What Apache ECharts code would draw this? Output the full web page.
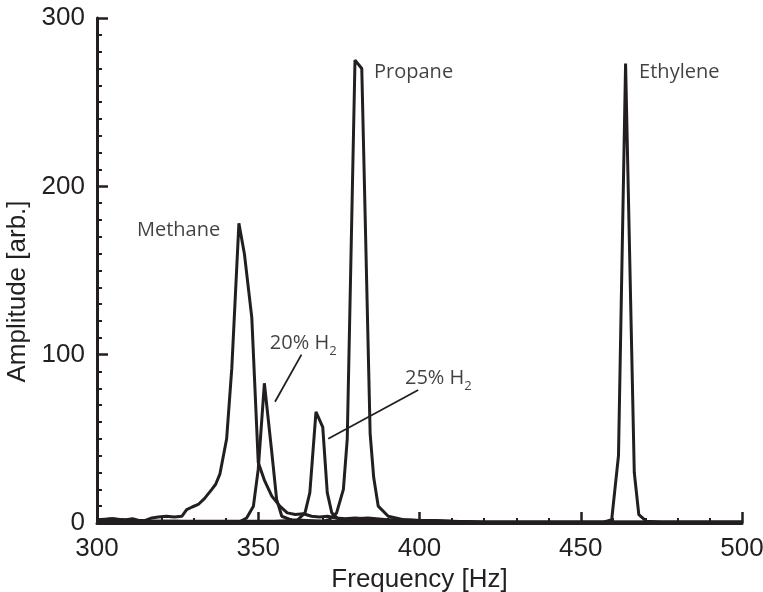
<!DOCTYPE html>
<html>
<head>
<meta charset="utf-8">
<script src="https://cdn.jsdelivr.net/npm/echarts@6/dist/echarts.min.js"></script>
<style>
html, body { margin: 0; padding: 0; background: #fff; }
#main { width: 763px; height: 592px; }
</style>
</head>
<body>
<div id="main"></div>
<script>
// spectra, [frequency Hz, amplitude]
var methane = [[300, 1.5], [302, 2], [304.5, 2.5], [307, 2], [309, 2], [311, 2.5], [313, 1.5], [315, 1.5],
	[317, 3], [319, 3.5], [321.5, 4], [324, 3.5], [326.3, 4], [327.8, 8], [329.5, 9.5], [331.4, 11],
	[333.3, 14.5], [335.6, 20], [336.8, 23], [338.1, 29], [340.2, 50], [341.8, 92], [344, 178],
	[345.7, 160], [348, 122], [350, 36], [352, 25], [354.2, 16], [356.7, 10], [359, 6], [361.5, 5],
	[364, 5.5], [366.5, 4], [369, 3.5], [371.5, 4], [374, 3], [377, 2.5], [380, 3], [383, 2.5],
	[386, 2], [390, 1.5], [395, 1.5], [400, 1], [420, 0.5], [450, 0.5], [500, 0.5]];
var h2_20 = [[300, 2], [305, 2.5], [310, 1.5], [315, 1], [320, 1], [325, 1], [330, 0.5], [335, 0.5],
	[340, 0.5], [344.5, 1], [346.4, 3], [348.5, 10], [350, 32], [351.9, 83], [354.2, 42], [355.7, 14],
	[357.3, 4], [360, 2], [365, 1.5], [370, 1], [380, 1], [390, 1], [400, 0.5], [450, 0.5], [500, 0.5]];
var h2_25 = [[300, 1], [320, 1], [340, 1], [355, 1], [362, 1.5], [364.5, 6], [366, 18], [367.9, 66],
	[370, 57], [371.4, 18], [372.8, 6], [375, 2], [380, 2.5], [384, 3], [390, 2], [395, 2], [400, 1.5],
	[410, 1], [420, 0.5], [500, 0.5]];
var propane = [[300, 0.5], [340, 0.5], [360, 1], [370, 1], [372, 2], [374.3, 6], [376.4, 20], [377.6, 50],
	[380, 275], [382.1, 270], [384.7, 53], [385.8, 27], [387.2, 10], [390.3, 4], [395, 2], [400, 1.5],
	[405, 1.5], [410, 1], [420, 0.5], [500, 0.5]];
var ethylene = [[300, 0.5], [350, 0.5], [400, 0.5], [457, 0.5], [459.6, 2], [461.7, 40], [463.9, 273],
	[466.6, 30], [468, 5], [470.4, 1], [475, 0.5], [500, 0.5]];

// annotations
var labelText = ['Methane', 'Propane', 'Ethylene', '20% H{s|2}', '25% H{s|2}'];
var labelX = [312.4, 385.9, 468.1, 353.6, 395.5];
var labelY = [174, 268, 268, 107, 86];
var pointer20 = [[363.4, 100], [355.2, 72]];
var pointer25 = [[399.6, 79], [371.7, 50]];

var ink = '#231f20';
var axisFont = 'Liberation Sans, Arial, sans-serif';
var noteFont = 'Open Sans, Noto Sans, sans-serif';

var myChart = echarts.init(document.getElementById('main'));

function spectrum(data) {
	return {
		type: 'line',
		data: data,
		showSymbol: false,
		symbol: 'none',
		lineStyle: { color: ink, width: 3 },
		silent: true
	};
}
function pointer(data) {
	return {
		type: 'line',
		data: data,
		showSymbol: false,
		symbol: 'none',
		lineStyle: { color: ink, width: 1.8 },
		silent: true
	};
}

var axisCommon = {
	axisLine: { lineStyle: { color: ink, width: 3 } },
	axisTick: { inside: true, length: 11, lineStyle: { color: ink, width: 2.5 } },
	minorTick: { show: true, length: 5, lineStyle: { color: ink, width: 2 } },
	splitLine: { show: false },
	axisLabel: { color: ink, fontSize: 26, fontFamily: axisFont },
	nameTextStyle: { color: ink, fontSize: 26, fontFamily: axisFont }
};

myChart.setOption({
	animation: false,
	backgroundColor: '#fff',
	grid: { left: 97, top: 18, right: 21, bottom: 69, outerBoundsMode: 'none' },
	xAxis: Object.assign({}, axisCommon, {
		type: 'value',
		min: 300, max: 500, interval: 50,
		minorTick: Object.assign({}, axisCommon.minorTick, { splitNumber: 5 }),
		axisLabel: Object.assign({}, axisCommon.axisLabel, { margin: 13 }),
		name: 'Frequency [Hz]',
		nameLocation: 'middle',
		nameGap: 43
	}),
	yAxis: Object.assign({}, axisCommon, {
		type: 'value',
		min: 0, max: 300, interval: 100,
		minorTick: Object.assign({}, axisCommon.minorTick, { splitNumber: 10 }),
		axisLabel: Object.assign({}, axisCommon.axisLabel, { margin: 12 }),
		name: 'Amplitude [arb.]',
		nameLocation: 'middle',
		nameGap: 62,
		nameTextStyle: Object.assign({}, axisCommon.nameTextStyle, { padding: [0, 42, 0, 0] })
	}),
	series: [
		spectrum(methane),
		spectrum(h2_20),
		spectrum(h2_25),
		spectrum(propane),
		spectrum(ethylene),
		pointer(pointer20),
		pointer(pointer25),
		{
			type: 'scatter',
			symbolSize: 0,
			silent: true,
			data: labelText.map(function (t, i) { return [labelX[i], labelY[i], t]; }),
			label: {
				show: true,
				position: 'right',
				distance: 0,
				color: '#111',
				fontSize: 20,
				fontFamily: noteFont,
				formatter: function (p) { return p.value[2]; },
				rich: {
					s: { fontSize: 13, color: '#111', fontFamily: noteFont, verticalAlign: 'bottom', lineHeight: 30 }
				}
			},
			emphasis: { disabled: true }
		}
	]
});
</script>
</body>
</html>
